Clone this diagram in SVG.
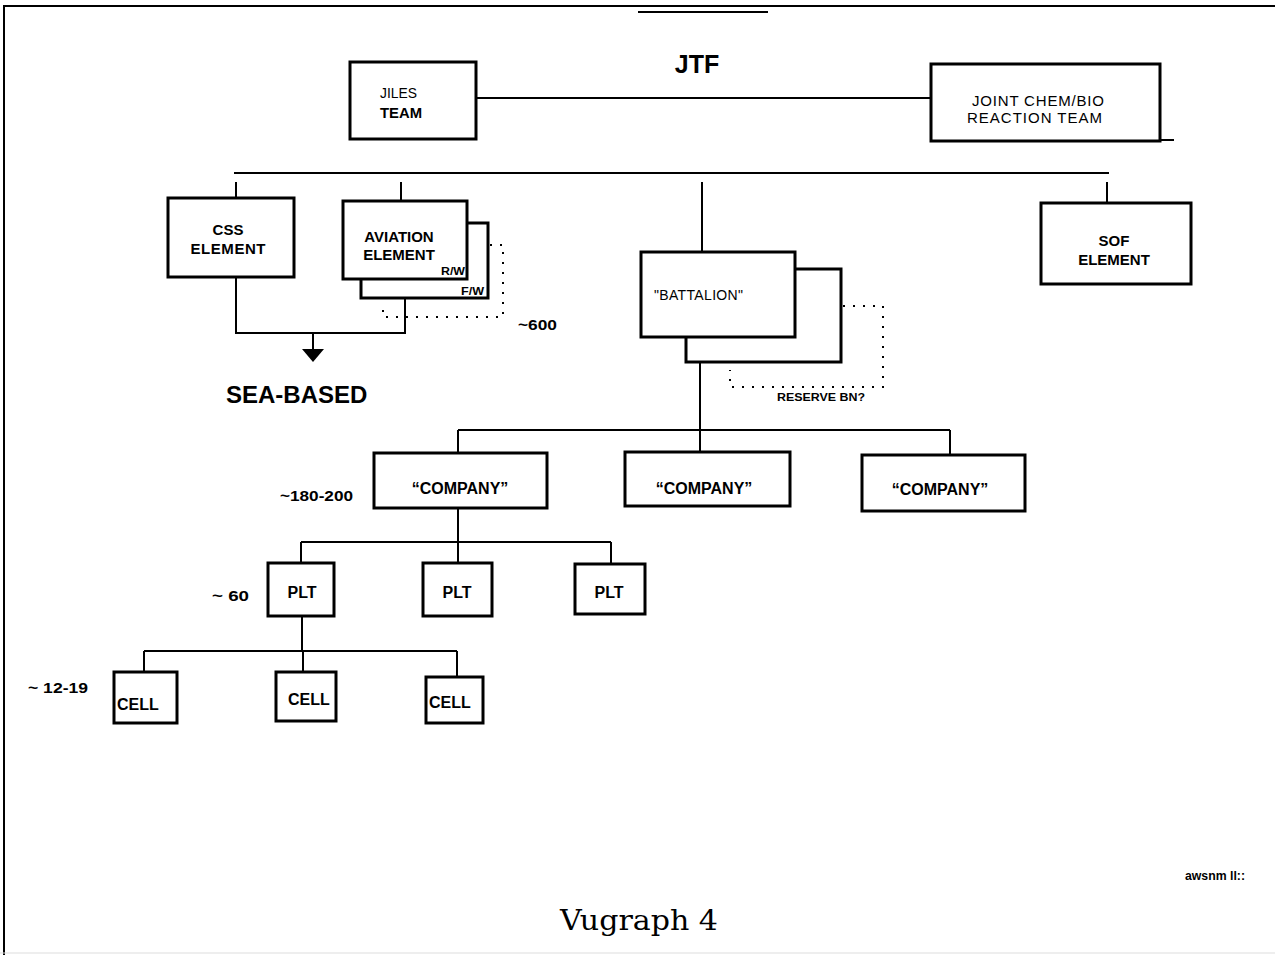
<svg xmlns="http://www.w3.org/2000/svg" width="1275" height="955" viewBox="0 0 1275 955">
<style>
.box{fill:#fff;stroke:#000;stroke-width:3}
.ln{fill:none;stroke:#000;stroke-width:2}
.dot{fill:none;stroke:#000;stroke-width:2;stroke-dasharray:2 8}
.b{font-family:"Liberation Sans",Arial,sans-serif;font-weight:bold;fill:#000}
.n{font-family:"Liberation Sans",Arial,sans-serif;fill:#000}
</style>
<rect width="1275" height="955" fill="#fff"/>
<g id="frame">
<line x1="3" y1="6" x2="1275" y2="6" stroke="#000" stroke-width="2"/>
<line x1="4" y1="5" x2="4" y2="955" stroke="#000" stroke-width="2"/>
<line x1="0" y1="953" x2="1275" y2="953" stroke="#ddd" stroke-width="1"/>
<line x1="638" y1="12" x2="768" y2="12" stroke="#000" stroke-width="2"/>
</g>
<g id="title"><text class="b" x="697" y="73" font-size="25" text-anchor="middle">JTF</text></g>
<g id="connectors">
<line class="ln" x1="476" y1="98" x2="931" y2="98"/>
<line class="ln" x1="1160" y1="140" x2="1174" y2="140"/>
<line class="ln" x1="234" y1="173" x2="1109" y2="173"/>
<line class="ln" x1="236" y1="182" x2="236" y2="198"/>
<line class="ln" x1="401" y1="182" x2="401" y2="201"/>
<line class="ln" x1="702" y1="182" x2="702" y2="252"/>
<line class="ln" x1="1107" y1="182" x2="1107" y2="203"/>
<path class="ln" d="M236 277V333H405V298"/>
<line class="ln" x1="313" y1="333" x2="313" y2="350"/>
<polygon points="302,349 324,349 313,362" fill="#000"/>
<path class="dot" d="M490 245H503V317H383V306"/>
<path class="dot" d="M843 306H883V387H730V370"/>
<line class="ln" x1="700" y1="362" x2="700" y2="430"/>
<line class="ln" x1="458" y1="430" x2="950" y2="430"/>
<line class="ln" x1="458" y1="430" x2="458" y2="453"/>
<line class="ln" x1="700" y1="430" x2="700" y2="452"/>
<line class="ln" x1="950" y1="430" x2="950" y2="455"/>
<line class="ln" x1="458" y1="508" x2="458" y2="542"/>
<line class="ln" x1="301" y1="542" x2="611" y2="542"/>
<line class="ln" x1="301" y1="542" x2="301" y2="563"/>
<line class="ln" x1="458" y1="542" x2="458" y2="563"/>
<line class="ln" x1="611" y1="542" x2="611" y2="564"/>
<line class="ln" x1="302" y1="616" x2="302" y2="651"/>
<line class="ln" x1="144" y1="651" x2="457" y2="651"/>
<line class="ln" x1="144" y1="651" x2="144" y2="672"/>
<line class="ln" x1="303" y1="651" x2="303" y2="672"/>
<line class="ln" x1="457" y1="651" x2="457" y2="677"/>
</g>
<g id="jiles">
<rect class="box" x="350" y="62" width="126" height="77"/>
<text class="n" x="380" y="98" font-size="15" textLength="37" lengthAdjust="spacingAndGlyphs">JILES</text>
<text class="b" x="380" y="118" font-size="15" textLength="42" lengthAdjust="spacingAndGlyphs">TEAM</text>
</g>
<g id="jointchembio">
<rect class="box" x="931" y="64" width="229" height="77"/>
<text class="n" x="972" y="106" font-size="15" textLength="132">JOINT CHEM/BIO</text>
<text class="n" x="967" y="123" font-size="15" textLength="135">REACTION TEAM</text>
</g>
<g id="css">
<rect class="box" x="168" y="198" width="126" height="79"/>
<text class="b" x="228" y="235" font-size="15" text-anchor="middle">CSS</text>
<text class="b" x="228" y="254" font-size="15" text-anchor="middle" textLength="75">ELEMENT</text>
</g>
<g id="aviation">
<rect class="box" x="361" y="223" width="127" height="75"/>
<rect class="box" x="343" y="201" width="124" height="78"/>
<text class="b" x="399" y="242" font-size="15" text-anchor="middle">AVIATION</text>
<text class="b" x="399" y="260" font-size="15" text-anchor="middle">ELEMENT</text>
<text class="b" x="441" y="275" font-size="11" textLength="24" lengthAdjust="spacingAndGlyphs">R/W</text>
<text class="b" x="461" y="295" font-size="11" textLength="23" lengthAdjust="spacingAndGlyphs">F/W</text>
</g>
<g id="seabased"><text class="b" x="226" y="403" font-size="24">SEA-BASED</text></g>
<g id="lbl600"><text class="b" x="518" y="330" font-size="14" textLength="39" lengthAdjust="spacingAndGlyphs">~600</text></g>
<g id="sof">
<rect class="box" x="1041" y="203" width="150" height="81"/>
<text class="b" x="1114" y="246" font-size="15" text-anchor="middle">SOF</text>
<text class="b" x="1114" y="265" font-size="15" text-anchor="middle">ELEMENT</text>
</g>
<g id="battalion">
<rect class="box" x="686" y="269" width="155" height="93"/>
<rect class="box" x="641" y="252" width="154" height="85"/>
<text class="n" x="654" y="300" font-size="14" textLength="89">"BATTALION"</text>
<text class="b" x="777" y="401" font-size="11" textLength="88" lengthAdjust="spacingAndGlyphs">RESERVE  BN?</text>
</g>
<g id="company1">
<rect class="box" x="374" y="453" width="173" height="55"/>
<text class="b" x="460" y="494" font-size="16" text-anchor="middle">“COMPANY”</text>
<text class="b" x="280" y="501" font-size="14" textLength="73" lengthAdjust="spacingAndGlyphs">~180-200</text>
</g>
<g id="company2">
<rect class="box" x="625" y="452" width="165" height="54"/>
<text class="b" x="704" y="494" font-size="16" text-anchor="middle">“COMPANY”</text>
</g>
<g id="company3">
<rect class="box" x="862" y="455" width="163" height="56"/>
<text class="b" x="940" y="495" font-size="16" text-anchor="middle">“COMPANY”</text>
</g>
<g id="plt1">
<rect class="box" x="268" y="563" width="66" height="53"/>
<text class="b" x="302" y="598" font-size="16" text-anchor="middle">PLT</text>
<text class="b" x="212" y="601" font-size="14" textLength="37" lengthAdjust="spacingAndGlyphs">~ 60</text>
</g>
<g id="plt2">
<rect class="box" x="423" y="563" width="69" height="53"/>
<text class="b" x="457" y="598" font-size="16" text-anchor="middle">PLT</text>
</g>
<g id="plt3">
<rect class="box" x="575" y="564" width="70" height="50"/>
<text class="b" x="609" y="598" font-size="16" text-anchor="middle">PLT</text>
</g>
<g id="cell1">
<rect class="box" x="114" y="672" width="63" height="51"/>
<text class="b" x="117" y="710" font-size="16">CELL</text>
<text class="b" x="28" y="693" font-size="14" textLength="60" lengthAdjust="spacingAndGlyphs">~ 12-19</text>
</g>
<g id="cell2">
<rect class="box" x="276" y="672" width="60" height="49"/>
<text class="b" x="288" y="705" font-size="16">CELL</text>
</g>
<g id="cell3">
<rect class="box" x="426" y="677" width="57" height="46"/>
<text class="b" x="429" y="708" font-size="16">CELL</text>
</g>
<g id="footer">
<text class="b" x="1185" y="880" font-size="12" textLength="60" lengthAdjust="spacingAndGlyphs">awsnm ll::</text>
<text x="560" y="930" font-family="'DejaVu Serif','Liberation Serif',serif" font-size="27" textLength="158" lengthAdjust="spacingAndGlyphs">Vugraph 4</text>
</g>
</svg>
